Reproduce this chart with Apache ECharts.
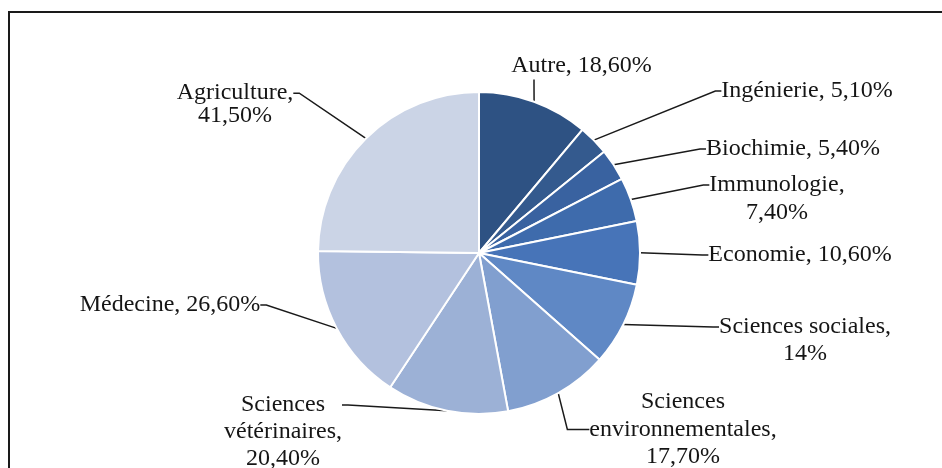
<!DOCTYPE html>
<html>
<head>
<meta charset="utf-8">
<script src="https://cdn.jsdelivr.net/npm/echarts@6/dist/echarts.min.js"></script>
<style>
html,body{margin:0;padding:0;background:#fff;}
#chart{width:942px;height:468px;}
</style>
</head>
<body>
<div id="chart"></div>
<script>
// ---- data ----
const categories = ['Autre', 'Ingénierie', 'Biochimie', 'Immunologie', 'Economie',
  'Sciences sociales', 'Sciences environnementales', 'Sciences vétérinaires', 'Médecine', 'Agriculture'];
const values = [18.6, 5.1, 5.4, 7.4, 10.6, 14, 17.7, 20.4, 26.6, 41.5];
const labelTexts = ['Autre, 18,60%', 'Ingénierie, 5,10%', 'Biochimie, 5,40%', 'Immunologie,\n7,40%',
  'Economie, 10,60%', 'Sciences sociales,\n14%', 'Sciences\nenvironnementales,\n17,70%',
  'Sciences\nvétérinaires,\n20,40%', 'Médecine, 26,60%', 'Agriculture,\n41,50%'];

// ---- styles / layout (not data) ----
const colors = ['#2e5283', '#345a8e', '#3962a0', '#3e6bac', '#4774b8', '#5f88c5', '#819fcf', '#9cb1d6', '#b3c1de', '#cbd4e6'];
// label placement: box centre x (incl. padding) and centre y of the first text line
const labelPos = [[534, 66], [807, 91], [793, 149], [777, 185], [800, 255],
  [805, 327], [683, 402], [283, 405], [170, 305], [235, 93]];
const labelLineHeights = [27, 27, 27, 28, 27, 27, 27.5, 27, 27, 23];
// padding [top, right, bottom, left] so that leader lines attach at the right line
const labelPaddings = [[0, 0, 0, 95], [0, 0, 0, 0], [0, 0, 0, 0], [28, 0, 0, 0], [0, 0, 0, 0],
  [27, 0, 0, 0], [0, 0, 0, 0], [54, 0, 0, 0], [0, 0, 0, 0], [23, 0, 0, 0]];
const leaderLength2 = [6, 6, 6, 6, 6, 6, 22, 6, 6, 6];

const chart = echarts.init(document.getElementById('chart'), null, {renderer: 'canvas'});
const option = {
  backgroundColor: '#fff',
  animation: false,
  graphic: [{
    type: 'rect', silent: true,
    shape: {x: 9, y: 12, width: 960, height: 500},
    style: {fill: 'none', stroke: '#1a1a1a', lineWidth: 2}
  }],
  series: [{
    type: 'pie',
    center: [479, 253],
    radius: 161,
    startAngle: 90,
    clockwise: true,
    avoidLabelOverlap: false,
    itemStyle: {borderColor: '#ffffff', borderWidth: 2},
    label: {
      show: true,
      position: 'outside',
      fontFamily: 'Liberation Serif',
      fontSize: 24,
      color: '#151515',
      align: 'center',
      backgroundColor: 'rgba(255,255,255,0)',
      formatter: p => labelTexts[p.dataIndex]
    },
    labelLine: {
      show: true, length: 10, length2: 6, smooth: false,
      lineStyle: {color: '#1a1a1a', width: 1.5}
    },
    labelLayout: function (params) {
      const i = params.dataIndex;
      const c = labelPos[i];
      const top = c[1] - labelPaddings[i][0] - labelLineHeights[i] / 2;
      return {x: c[0], y: top, align: 'center', verticalAlign: 'top'};
    },
    data: categories.map((name, i) => ({
      name: name,
      value: values[i],
      itemStyle: {color: colors[i]},
      label: {lineHeight: labelLineHeights[i], padding: labelPaddings[i]},
      labelLine: {length2: leaderLength2[i]}
    }))
  }]
};
chart.setOption(option);
</script>
</body>
</html>
